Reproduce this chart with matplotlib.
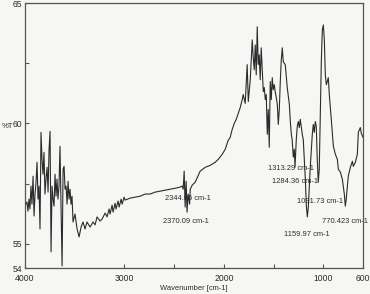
import matplotlib.pyplot as plt
import numpy as np

# spectrum: wavenumber (cm-1) and transmittance (%T)
wavenumber = [
    4000, 3980, 3970, 3960, 3950, 3940, 3930, 3919, 3909, 3899,
    3889, 3879, 3869, 3859, 3849, 3839, 3829, 3819, 3809, 3799,
    3789, 3778, 3768, 3758, 3748, 3738, 3728, 3718, 3708, 3698,
    3688, 3678, 3668, 3658, 3648, 3637, 3627, 3617, 3607, 3597,
    3587, 3577, 3567, 3557, 3547, 3537, 3527, 3517, 3497, 3476,
    3456, 3436, 3416, 3396, 3376, 3346, 3315, 3295, 3275, 3245,
    3225, 3194, 3174, 3154, 3144, 3124, 3114, 3094, 3084, 3064,
    3053, 3033, 3023, 3003, 2993, 2943, 2892, 2842, 2792, 2741,
    2691, 2641, 2590, 2540, 2490, 2439, 2419, 2409, 2399, 2389,
    2379, 2370, 2359, 2344, 2338, 2318, 2288, 2238, 2187, 2137,
    2087, 2056, 2016, 1986, 1956, 1936, 1916, 1895, 1875, 1855,
    1835, 1815, 1805, 1785, 1765, 1754, 1734, 1714, 1704, 1694,
    1684, 1674, 1664, 1654, 1644, 1634, 1624, 1613, 1603, 1593,
    1583, 1573, 1563, 1553, 1543, 1533, 1523, 1513, 1503, 1493,
    1483, 1472, 1462, 1452, 1442, 1432, 1422, 1412, 1402, 1382,
    1362, 1341, 1331, 1321, 1313, 1301, 1291, 1284, 1271, 1261,
    1251, 1241, 1231, 1211, 1201, 1180, 1170, 1160, 1150, 1130,
    1110, 1100, 1090, 1080, 1070, 1060, 1050, 1040, 1030, 1019,
    1009, 999, 989, 979, 969, 959, 949, 939, 929, 919,
    898, 878, 858, 848, 828, 808, 788, 778, 770, 748,
    727, 707, 697, 677, 657, 647, 627, 617, 600,
]
transmittance = [
    56.57, 56.74, 56.36, 56.86, 56.45, 57.40, 56.65, 57.81, 56.16, 57.07,
    57.56, 58.39, 56.86, 57.40, 55.62, 59.63, 58.51, 57.89, 58.80, 57.07,
    57.69, 58.18, 57.15, 58.93, 59.67, 54.67, 57.40, 56.86, 56.57, 57.89,
    56.98, 57.69, 56.86, 57.40, 59.05, 56.45, 54.09, 58.10, 58.22, 57.27,
    57.40, 56.65, 57.60, 56.86, 57.27, 56.65, 56.98, 55.91, 56.24, 55.62,
    55.29, 55.70, 55.91, 55.62, 55.91, 55.70, 55.91, 55.79, 56.12, 55.95,
    56.03, 56.28, 56.12, 56.45, 56.24, 56.61, 56.32, 56.69, 56.45, 56.78,
    56.53, 56.86, 56.65, 56.94, 56.82, 56.90, 56.94, 56.98, 57.07, 57.07,
    57.15, 57.19, 57.23, 57.27, 57.31, 57.36, 57.40, 57.27, 58.02, 56.53,
    57.60, 56.32, 57.07, 56.65, 57.27, 57.44, 57.56, 58.02, 58.18, 58.26,
    58.39, 58.51, 58.72, 58.93, 59.30, 59.42, 59.75, 60.00, 60.17, 60.41,
    60.66, 60.99, 61.20, 60.83, 62.44, 60.91, 61.82, 63.47, 62.73, 62.23,
    63.26, 62.02, 64.01, 62.44, 62.85, 61.82, 63.14, 62.23, 61.32, 61.49,
    60.99, 61.20, 59.55, 60.58, 59.01, 61.74, 60.99, 61.90, 61.40, 61.61,
    61.32, 61.07, 60.79, 59.96, 60.58, 61.74, 62.64, 63.14, 62.56, 62.44,
    61.49, 60.79, 60.08, 59.55, 59.34, 58.60, 58.93, 58.18, 59.34, 59.88,
    60.08, 59.83, 60.17, 59.55, 59.34, 57.69, 56.57, 56.12, 56.53, 58.22,
    59.55, 59.96, 59.63, 60.08, 59.88, 58.51, 57.56, 58.10, 60.17, 62.64,
    63.88, 64.09, 63.47, 62.02, 61.61, 61.74, 61.90, 61.20, 60.70, 60.17,
    59.05, 58.72, 58.51, 58.10, 57.98, 57.69, 57.07, 56.57, 56.80, 57.81,
    58.18, 58.43, 58.22, 58.39, 58.72, 59.63, 59.83, 59.59, 59.42,
]

peak_labels = ["2344.05 cm-1", "2370.09 cm-1", "1313.29 cm-1", "1284.36 cm-1",
               "1091.73 cm-1", "770.423 cm-1", "1159.97 cm-1"]
label_wn = [2590, 2610, 1553, 1513, 1261, 1009, 1392]
label_t = [56.9, 55.91, 58.14, 57.6, 56.74, 55.95, 55.37]

bg = "#f6f6f4"
ink = "#2b2b2b"

plt.rcParams["font.family"] = ["Liberation Sans", "DejaVu Sans"]

fig = plt.figure(figsize=(3.7, 2.94), dpi=100, facecolor=bg)
ax = fig.add_axes([25 / 370, 26 / 294, 338 / 370, 265 / 294], facecolor=bg)

ax.plot(wavenumber, transmittance, color=ink, lw=0.8)

ax.set_xlim(4000, 600)
ax.set_ylim(54, 65)
ax.set_xticks([4000, 3000, 2000, 1000, 600])
ax.set_xticks([2500, 1500], minor=True)
ax.set_yticks([54, 55, 60, 65])
ax.set_yticks([57.5, 62.5], minor=True)
ax.tick_params(which="both", direction="in", length=3, width=0.8,
               colors="#555555", labelcolor=ink, labelsize=6.2, pad=2)
ax.tick_params(axis="x", pad=4.5)
for s in ax.spines.values():
    s.set_color("#555555")
    s.set_linewidth(0.9)

for txt, w, t in zip(peak_labels, label_wn, label_t):
    ax.text(w, t, txt, fontsize=5.4, color=ink, ha="left", va="center")

fig.text(8 / 370, 1 - 127 / 294, "%T", fontsize=5.6, color=ink,
         ha="center", va="center")
fig.text(194 / 370, 1 - 288 / 294, "Wavenumber [cm-1]", fontsize=5.4,
         color=ink, ha="center", va="center")

fig.savefig("out.png", dpi=100, facecolor=bg)
